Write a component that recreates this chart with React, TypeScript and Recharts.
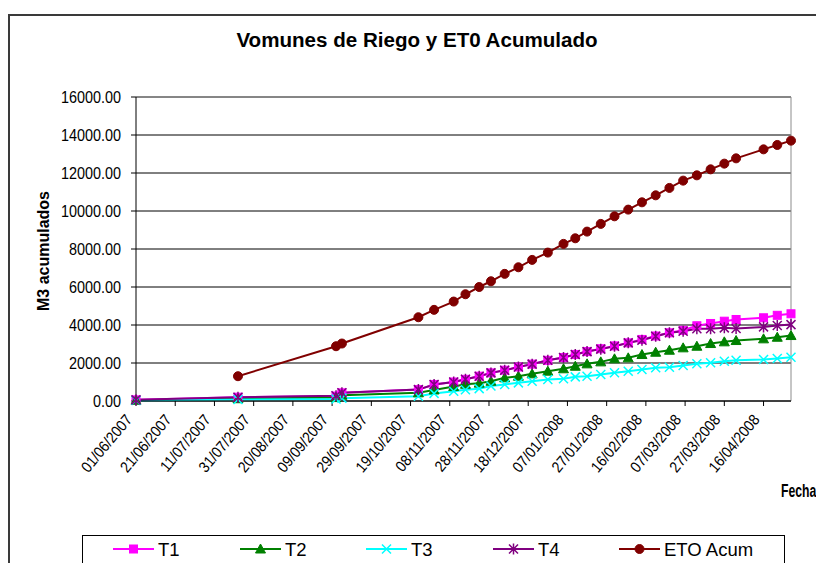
import { CartesianGrid, Line, LineChart, ReferenceLine, XAxis, YAxis } from "recharts";

const FONT = "'Liberation Sans', Arial, sans-serif";

// fechas de medida
const dates = [
  "2007-06-01", "2007-07-23", "2007-09-11", "2007-09-14", "2007-10-23", "2007-10-31",
  "2007-11-10", "2007-11-16", "2007-11-23", "2007-11-29", "2007-12-06", "2007-12-13",
  "2007-12-20", "2007-12-28", "2008-01-05", "2008-01-11", "2008-01-17", "2008-01-24",
  "2008-01-31", "2008-02-07", "2008-02-14", "2008-02-21", "2008-02-28", "2008-03-06",
  "2008-03-13", "2008-03-20", "2008-03-27", "2008-04-02", "2008-04-16", "2008-04-23",
  "2008-04-30",
];

const t1 = [60, 200, 260, 430, 600, 870, 1000, 1140, 1305, 1480, 1620, 1790, 1940, 2140, 2290, 2450, 2600, 2750, 2900, 3060, 3240, 3420, 3590, 3720, 3960, 4080, 4200, 4290, 4380, 4510, 4590];
const t2 = [40, 120, 180, 300, 430, 580, 760, 880, 940, 1040, 1220, 1305, 1430, 1570, 1695, 1830, 1955, 2060, 2220, 2272, 2446, 2567, 2672, 2798, 2883, 3024, 3114, 3182, 3272, 3356, 3445];
const t3 = [30, 80, 110, 150, 250, 400, 515, 590, 650, 790, 870, 955, 1040, 1130, 1170, 1270, 1305, 1395, 1490, 1567, 1657, 1746, 1778, 1867, 1957, 2009, 2094, 2146, 2183, 2236, 2304];
const t4 = [60, 200, 280, 430, 600, 870, 1000, 1140, 1305, 1480, 1620, 1790, 1940, 2140, 2290, 2450, 2600, 2730, 2880, 3060, 3200, 3410, 3590, 3670, 3800, 3800, 3850, 3820, 3900, 3970, 4020];
const etoAcum = [null, 1305, 2883, 3025, 4408, 4797, 5234, 5618, 6000, 6302, 6691, 7038, 7427, 7811, 8269, 8564, 8916, 9321, 9721, 10073, 10457, 10825, 11214, 11598, 11877, 12193, 12493, 12771, 13245, 13476, 13703];

const tickDates = [
  "2007-06-01", "2007-06-21", "2007-07-11", "2007-07-31", "2007-08-20", "2007-09-09",
  "2007-09-29", "2007-10-19", "2007-11-08", "2007-11-28", "2007-12-18", "2008-01-07",
  "2008-01-27", "2008-02-16", "2008-03-07", "2008-03-27", "2008-04-16",
];
const yTicks = [0, 2000, 4000, 6000, 8000, 10000, 12000, 14000, 16000];

const DAY = 86400000;
const START = Date.UTC(2007, 5, 1);
const toDay = (s: string) => {
  const [y, m, d] = s.split("-").map(Number);
  return Math.round((Date.UTC(y, m - 1, d) - START) / DAY);
};
const fmtDay = (n: number) => {
  const d = new Date(START + n * DAY);
  const dd = String(d.getUTCDate()).padStart(2, "0");
  const mm = String(d.getUTCMonth() + 1).padStart(2, "0");
  return `${dd}/${mm}/${d.getUTCFullYear()}`;
};

const data = dates.map((s, i) => ({
  day: toDay(s),
  t1: t1[i],
  t2: t2[i],
  t3: t3[i],
  t4: t4[i],
  eto: etoAcum[i],
}));
const xTicks = tickDates.map(toDay);

const C = { t1: "#ff00ff", t2: "#008000", t3: "#00ffff", t4: "#800080", eto: "#800000" };

function shape(kind: string, color: string, x: number, y: number, key?: string) {
  if (kind === "square") return <rect key={key} x={x - 4} y={y - 4} width={8} height={8} fill={color} stroke={color} />;
  if (kind === "tri") return <path key={key} d={`M${x},${y - 5}L${x + 5},${y + 4}L${x - 5},${y + 4}Z`} fill={color} stroke={color} />;
  if (kind === "x")
    return <path key={key} d={`M${x - 4.5},${y - 4.5}L${x + 4.5},${y + 4.5}M${x - 4.5},${y + 4.5}L${x + 4.5},${y - 4.5}`} stroke={color} strokeWidth={1.5} fill="none" />;
  if (kind === "star")
    return (
      <path
        key={key}
        d={`M${x - 4.5},${y - 4.5}L${x + 4.5},${y + 4.5}M${x - 4.5},${y + 4.5}L${x + 4.5},${y - 4.5}M${x},${y - 5.5}L${x},${y + 5.5}`}
        stroke={color}
        strokeWidth={1.5}
        fill="none"
      />
    );
  return <circle key={key} cx={x} cy={y} r={4.5} fill={color} stroke={color} />;
}

const marker = (kind: string, color: string) => (p: any) => {
  const key = `${kind}-${p.index}`;
  if (p.cx == null || p.cy == null || p.value == null) return <g key={key} />;
  return shape(kind, color, p.cx, p.cy, key);
};

// text squeezed horizontally, like the original export
function NText({ x, y, size, sx = 1, bold = false, anchor = "start", rotate = 0, children }: any) {
  return (
    <text
      transform={`translate(${x},${y}) rotate(${rotate}) scale(${sx},1)`}
      fontSize={size}
      fontFamily={FONT}
      fontWeight={bold ? "bold" : "normal"}
      textAnchor={anchor}
      fill="#000"
    >
      {children}
    </text>
  );
}

const DateTick = ({ x, y, payload }: any) => (
  <NText x={x - 3} y={y + 12} size={15.5} sx={0.9} anchor="end" rotate={-50}>
    {fmtDay(payload.value)}
  </NText>
);

const ValueTick = ({ x, y, payload }: any) => (
  <NText x={x - 8} y={y + 5.5} size={16} sx={0.9} anchor="end">
    {Number(payload.value).toFixed(2)}
  </NText>
);

const legendItems = [
  { name: "T1", kind: "square", color: C.t1, x: 113 },
  { name: "T2", kind: "tri", color: C.t2, x: 240 },
  { name: "T3", kind: "x", color: C.t3, x: 366 },
  { name: "T4", kind: "star", color: C.t4, x: 493 },
  { name: "ETO Acum", kind: "dot", color: C.eto, x: 619 },
];

export default function App() {
  return (
    <div style={{ position: "absolute", left: 0, top: 0, width: 816, height: 563, overflow: "hidden", background: "#fff", fontFamily: FONT }}>
      <div style={{ position: "absolute", left: 8, top: 14, width: 900, height: 700, border: "2px solid #3a3a3a", boxSizing: "border-box" }} />

      <div style={{ position: "absolute", left: 0, top: 0 }}>
        <LineChart width={816} height={563} data={data} margin={{ top: 97, right: 25, bottom: 102, left: 66 }}>
          <CartesianGrid horizontal vertical={false} stroke="#000" />
          <XAxis
            type="number"
            dataKey="day"
            domain={[0, 334]}
            ticks={xTicks}
            interval={0}
            tick={<DateTick />}
            height={60}
            stroke="#000"
            tickSize={5}
          />
          <YAxis type="number" domain={[0, 16000]} ticks={yTicks} interval={0} width={70} stroke="#000" tickSize={5} tick={<ValueTick />} />
          <ReferenceLine x={334} stroke="#8c8c8c" />
          <ReferenceLine y={16000} stroke="#8c8c8c" />
          <Line isAnimationActive={false} dataKey="t1" stroke={C.t1} strokeWidth={2} dot={marker("square", C.t1)} activeDot={false} />
          <Line isAnimationActive={false} dataKey="t2" stroke={C.t2} strokeWidth={2} dot={marker("tri", C.t2)} activeDot={false} />
          <Line isAnimationActive={false} dataKey="t3" stroke={C.t3} strokeWidth={2} dot={marker("x", C.t3)} activeDot={false} />
          <Line isAnimationActive={false} dataKey="t4" stroke={C.t4} strokeWidth={2} dot={marker("star", C.t4)} activeDot={false} />
          <Line isAnimationActive={false} dataKey="eto" stroke={C.eto} strokeWidth={2} dot={marker("dot", C.eto)} activeDot={false} />
        </LineChart>
      </div>

      <svg style={{ position: "absolute", left: 0, top: 0 }} width={816} height={563}>
        <NText x={417} y={47} size={21} sx={0.98} bold anchor="middle">
          Vomunes de Riego y ET0 Acumulado
        </NText>
        <NText x={49} y={251} size={16} bold anchor="middle" rotate={-90}>
          M3 acumulados
        </NText>
        <NText x={781} y={497} size={18} sx={0.68} bold>
          Fecha
        </NText>
        <rect x={82.5} y={535.5} width={702} height={40} fill="#fff" stroke="#000" />
        {legendItems.map((it) => (
          <g key={it.name}>
            <line x1={it.x} x2={it.x + 41} y1={549} y2={549} stroke={it.color} strokeWidth={2} />
            {shape(it.kind, it.color, it.x + 20.5, 549)}
            <NText x={it.x + 45} y={556} size={18.5}>
              {it.name}
            </NText>
          </g>
        ))}
      </svg>
    </div>
  );
}
